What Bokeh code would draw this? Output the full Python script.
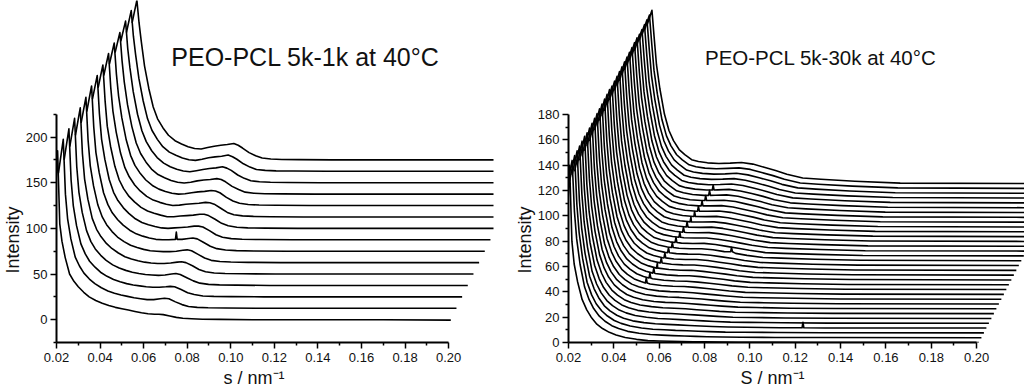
import math
from bokeh.plotting import figure
from bokeh.models import FixedTicker, PrintfTickFormatter, Label, Range1d, ColumnDataSource, Title
from bokeh.layouts import row
from bokeh.embed import file_html
from bokeh.resources import INLINE

FONT = "Liberation Sans"

# ---------------- data: left panel (PEO-PCL 5k-1k), 15 frames ----------------
s_left = [0.0183, 0.0205, 0.0215, 0.0225, 0.0240, 0.0260, 0.0280, 0.0300, 0.0325, 0.0350,
          0.0380, 0.0410, 0.0440, 0.0470, 0.0500, 0.0530, 0.0560, 0.0590, 0.0620, 0.0650,
          0.0670, 0.0690, 0.0720, 0.0750, 0.0780, 0.0820, 0.0870, 0.0950, 0.1100, 0.1400,
          0.1700, 0.2010]

left_intensity = [
    [80, 185, 105, 86, 68, 50, 42, 36, 30, 25, 21, 18, 15.5, 13.5, 12, 10.5, 9, 7.5, 6.5, 6, 6, 5.5, 4, 2.5, 1.5, 1, 0.5, 0.3, 0, 0, 0, -0.5],
    [148, 185, 125, 98, 76, 56, 46, 38.5, 32, 27, 22.5, 19, 16.5, 14.5, 13, 11.5, 10.5, 9.5, 9.5, 10.5, 11, 10.5, 7, 4, 2, 1, 0.5, 0.3, 0, 0, 0, 0],
    [150, 184, 128, 100, 78, 58, 47, 39, 32.5, 27, 22.5, 19, 16.5, 14.5, 13, 12, 11, 10.5, 10.5, 11, 11.5, 11, 8, 4.5, 2.5, 1, 0.5, 0.3, 0, 0, 0, 0],
    [152, 183, 130, 102, 80, 60, 48, 40, 33, 27.5, 22.5, 19, 16.5, 14.5, 13, 12, 11.5, 11, 11.5, 12.5, 13, 12, 8.5, 5, 2.5, 1.2, 0.6, 0.3, 0, 0, 0, 0],
    [152, 182, 132, 104, 82, 61, 49, 41, 33.5, 28, 23, 19, 16.5, 14.5, 13, 12, 11.5, 11.5, 12, 13, 13.5, 12.5, 9, 5, 2.5, 1.2, 0.6, 0.3, 0, 0, 0, 0],
    [153, 181, 134, 106, 84, 63, 50, 41.5, 34, 28, 23, 19, 16.5, 14.5, 13, 12.5, 12, 12, 12.5, 13.5, 14, 13, 9, 5, 2.5, 1.2, 0.6, 0.3, 0, 0, 0, 0],
    [153, 181, 136, 108, 86, 64, 51, 42, 34.5, 28.5, 23, 19, 16.5, 14.5, 13, 12.5, 12.5, 13, 13, 14, 14.5, 13.5, 9.5, 5.5, 2.8, 1.3, 0.6, 0.3, 0, 0, 0, 0],
    [154, 180, 138, 110, 88, 66, 52, 43, 35, 29, 23, 19, 16.5, 14.5, 13, 12.5, 13, 13.5, 14, 15, 15, 14, 10, 5.5, 2.8, 1.3, 0.6, 0.3, 0, 0, 0, 0],
    [154, 179, 140, 112, 90, 68, 53, 43.5, 35, 29, 23, 19, 16.5, 14.5, 12.8, 12.8, 13.5, 14, 14.5, 15.5, 15.5, 14, 10, 5.5, 2.8, 1.3, 0.6, 0.3, 0, 0, 0, 0],
    [155, 179, 142, 116, 93, 70, 54, 44, 35, 28.5, 22.5, 18.5, 16, 14, 12.5, 13, 14, 14.5, 15, 16, 15.5, 14, 9.5, 5, 2.5, 1.2, 0.6, 0.3, 0, 0, 0, 0],
    [155, 178, 144, 120, 96, 72, 55, 44, 35, 28, 22, 18, 15.5, 13.5, 12.5, 13, 14, 15, 15.5, 16.5, 16, 14, 9, 5, 2.5, 1.2, 0.6, 0.3, 0, 0, 0, 0],
    [155, 177, 146, 123, 98, 74, 56, 44.5, 35, 27.5, 21.5, 18, 15, 13, 12.2, 13, 14.5, 15.5, 16, 17, 16, 13.5, 8.5, 5, 2.2, 1, 0.5, 0.3, 0, 0, 0, 0],
    [155, 177, 147, 126, 100, 75, 57, 45, 35, 27.5, 21.5, 17.5, 14.8, 12.8, 12, 13.2, 14.5, 15.5, 16.3, 17.5, 16, 13.5, 8.5, 4.8, 2.2, 1, 0.5, 0.3, 0, 0, 0, 0],
    [152, 176, 148, 128, 102, 77, 57.5, 45, 35, 27, 21, 17.5, 14.6, 12.6, 12, 13.3, 14.8, 15.8, 16.5, 17.8, 16, 13.2, 8.2, 4.6, 2, 1, 0.5, 0.3, 0, 0, 0, 0],
    [150, 175, 150, 130, 103, 78, 58, 45, 35, 27, 21, 17.5, 14.5, 12.5, 12, 13.5, 15, 16, 16.8, 18, 16, 13, 8, 4.5, 2, 1, 0.5, 0.3, 0, 0, 0, 0],
]

# narrow spikes seen on single frames: frame index, s, level beside spike, spike top
left_spike_frame = [6]
left_spike_s = [0.0594]
left_spike_base = [13]
left_spike_top = [21]

# ---------------- data: right panel (PEO-PCL 5k-30k), 34 frames ----------------
s_right = [0.0183, 0.0205, 0.0215, 0.0225, 0.0240, 0.0260, 0.0280, 0.0300, 0.0325, 0.0350,
           0.0380, 0.0410, 0.0450, 0.0500, 0.0550, 0.0600, 0.0650, 0.0700, 0.0750, 0.0800,
           0.0870, 0.0950, 0.1100, 0.1300, 0.2010]

right_intensity = [
    [50, 140, 80, 62, 48, 34, 26, 20, 14.5, 11, 8, 6, 4, 2.5, 1.5, 1.2, 1, 0.8, 0.6, 0.5, 0.3, 0.2, 0.1, 0, 0],
    [120, 140, 100, 78, 58, 40, 30, 23, 17, 13, 9.5, 7.2, 5, 3.5, 2.5, 2, 1.6, 1.3, 1, 0.8, 0.5, 0.4, 0.2, 0.1, 0],
    [120, 140, 101, 79, 59, 40, 30, 23, 17.3, 13.3, 9.8, 7.5, 5.4, 3.9, 2.9, 2.5, 2.0, 1.7, 1.3, 1.0, 0.6, 0.5, 0.3, 0.1, 0],
    [121, 140, 101, 79, 59, 41, 31, 24, 17.6, 13.6, 10.1, 7.8, 5.7, 4.3, 3.4, 2.9, 2.5, 2.0, 1.6, 1.2, 0.8, 0.6, 0.3, 0.1, 0],
    [120, 140, 102, 80, 60, 41, 31, 24, 17.9, 13.9, 10.4, 8.2, 6.1, 4.7, 3.8, 3.4, 2.9, 2.4, 1.9, 1.4, 0.9, 0.7, 0.4, 0.1, 0],
    [121, 140, 102, 80, 60, 42, 31.5, 24.4, 18.3, 14.3, 10.7, 8.5, 6.4, 5.1, 4.2, 3.9, 3.3, 2.8, 2.2, 1.6, 1.0, 0.8, 0.4, 0.2, 0],
    [121, 140, 102, 80.5, 60.7, 42.3, 31.9, 24.7, 18.6, 14.6, 11, 8.8, 6.8, 5.5, 4.7, 4.3, 3.8, 3.1, 2.5, 1.8, 1.1, 0.9, 0.5, 0.2, 0],
    [121, 139, 103, 81, 61.2, 42.8, 32.3, 25.1, 18.9, 14.9, 11.3, 9.1, 7.2, 5.8, 5.1, 4.8, 4.2, 3.5, 2.8, 2.1, 1.3, 1.0, 0.5, 0.2, 0],
    [121, 139, 103, 81.5, 61.7, 43.3, 32.6, 25.4, 19.2, 15.2, 11.6, 9.5, 7.5, 6.2, 5.5, 5.2, 4.6, 3.9, 3.1, 2.3, 1.4, 1.1, 0.6, 0.2, 0],
    [121, 139, 104, 82, 62.2, 43.8, 33, 25.8, 19.5, 15.5, 11.9, 9.8, 7.9, 6.6, 6, 5.7, 5.1, 4.2, 3.4, 2.5, 1.5, 1.2, 0.7, 0.2, 0],
    [121, 139, 104, 82.5, 62.8, 44.2, 33.4, 26.1, 19.8, 15.8, 12.2, 10.1, 8.2, 7.0, 6.4, 6.2, 5.5, 4.6, 3.7, 2.7, 1.6, 1.3, 0.7, 0.2, 0],
    [122, 139, 104.7, 83, 63.3, 44.7, 33.8, 26.4, 20.1, 16.1, 12.5, 10.4, 8.6, 7.4, 6.8, 6.6, 5.9, 5.0, 4.0, 2.9, 1.8, 1.4, 0.8, 0.2, 0],
    [122, 139, 105.2, 83.5, 63.8, 45.2, 34.1, 26.8, 20.4, 16.4, 12.8, 10.7, 8.9, 7.8, 7.2, 7.1, 6.4, 5.3, 4.3, 3.1, 1.9, 1.5, 0.8, 0.2, 0],
    [122, 139, 105.6, 84, 64.4, 45.6, 34.5, 27.1, 20.8, 16.8, 13.1, 11.1, 9.3, 8.2, 7.7, 7.6, 6.8, 5.7, 4.6, 3.3, 2.0, 1.6, 0.9, 0.3, 0],
    [122, 139, 106.1, 84.5, 64.9, 46.1, 34.9, 27.5, 21.1, 17.1, 13.4, 11.4, 9.7, 8.6, 8.1, 8.0, 7.2, 6.1, 4.9, 3.5, 2.1, 1.7, 0.9, 0.3, 0],
    [122, 139, 106.6, 85, 65.4, 46.6, 35.3, 27.8, 21.4, 17.4, 13.7, 11.7, 10.0, 9.0, 8.5, 8.5, 7.7, 6.4, 5.2, 3.7, 2.3, 1.8, 1.0, 0.3, 0],
    [122, 139, 107, 85.5, 66, 47, 35.6, 28.2, 21.7, 17.7, 14, 12, 10.4, 9.4, 9.0, 8.9, 8.1, 6.8, 5.5, 3.9, 2.4, 1.9, 1.0, 0.3, 0],
    [123, 138, 107.5, 86, 66.5, 47.5, 36, 28.5, 22, 18, 14.3, 12.4, 10.8, 9.8, 9.4, 9.4, 8.6, 7.2, 5.8, 4.2, 2.5, 2.0, 1.1, 0.3, 0],
    [123, 138, 108, 86.5, 67, 48, 36.4, 28.8, 22.3, 18.3, 14.5, 12.7, 11.1, 10.1, 9.8, 9.9, 9.0, 7.5, 6.0, 4.4, 2.6, 2.0, 1.2, 0.3, 0],
    [123, 138, 108.4, 87, 67.6, 48.4, 36.8, 29.2, 22.6, 18.6, 14.8, 13, 11.5, 10.5, 10.3, 10.3, 9.4, 7.9, 6.3, 4.6, 2.8, 2.1, 1.2, 0.3, 0],
    [123, 138, 108.9, 87.5, 68.1, 48.9, 37.1, 29.5, 22.9, 18.9, 15.1, 13.3, 11.8, 10.9, 10.7, 10.8, 9.8, 8.3, 6.6, 4.8, 2.9, 2.2, 1.3, 0.3, 0],
    [123, 138, 109.4, 88, 68.6, 49.4, 37.5, 29.9, 23.3, 19.3, 15.4, 13.6, 12.2, 11.3, 11.1, 11.3, 10.3, 8.6, 6.9, 5.0, 3.0, 2.3, 1.3, 0.4, 0],
    [123, 138, 109.8, 88.5, 69.2, 49.8, 37.9, 30.2, 23.6, 19.6, 15.7, 14, 12.5, 11.7, 11.6, 11.7, 10.7, 9.0, 7.2, 5.2, 3.1, 2.4, 1.4, 0.4, 0],
    [124, 138, 110.3, 89, 69.7, 50.3, 38.3, 30.6, 23.9, 19.9, 16, 14.3, 12.9, 12.1, 12, 12.2, 11.1, 9.4, 7.5, 5.4, 3.3, 2.5, 1.4, 0.4, 0],
    [124, 138, 110.8, 89.5, 70.2, 50.8, 38.6, 30.9, 24.2, 20.2, 16.3, 14.6, 13.3, 12.5, 12.4, 12.6, 11.6, 9.7, 7.8, 5.6, 3.4, 2.6, 1.5, 0.4, 0],
    [124, 138, 111.3, 90, 70.7, 51.3, 39, 31.3, 24.5, 20.5, 16.6, 14.9, 13.6, 12.9, 12.9, 13.1, 12, 10.1, 8.1, 5.8, 3.5, 2.7, 1.6, 0.4, 0],
    [124, 138, 111.7, 90.5, 71.3, 51.7, 39.4, 31.6, 24.8, 20.8, 16.9, 15.3, 14, 13.3, 13.3, 13.6, 12.5, 10.5, 8.4, 6.0, 3.6, 2.8, 1.6, 0.4, 0],
    [124, 138, 112.2, 91, 71.8, 52.2, 39.8, 31.9, 25.1, 21.1, 17.2, 15.6, 14.3, 13.6, 13.7, 14.0, 12.9, 10.8, 8.7, 6.2, 3.8, 2.9, 1.7, 0.4, 0],
    [124, 137, 112.7, 91.5, 72.3, 52.7, 40.1, 32.3, 25.4, 21.4, 17.5, 15.9, 14.7, 14, 14.1, 14.5, 13.3, 11.2, 9.0, 6.4, 3.9, 3.0, 1.7, 0.4, 0],
    [125, 137, 113.1, 92, 72.9, 53.1, 40.5, 32.6, 25.8, 21.8, 17.8, 16.2, 15.1, 14.4, 14.6, 15.0, 13.8, 11.6, 9.3, 6.7, 4.0, 3.1, 1.8, 0.5, 0],
    [125, 137, 113.6, 92.5, 73.4, 53.6, 40.9, 33, 26.1, 22.1, 18.1, 16.5, 15.4, 14.8, 15, 15.4, 14.2, 11.9, 9.6, 6.9, 4.1, 3.2, 1.8, 0.5, 0],
    [125, 137, 114.1, 93, 73.9, 54.1, 41.3, 33.3, 26.4, 22.4, 18.4, 16.9, 15.8, 15.2, 15.4, 15.9, 14.6, 12.3, 9.9, 7.1, 4.3, 3.3, 1.9, 0.5, 0],
    [125, 137, 114.5, 93.5, 74.5, 54.5, 41.6, 33.7, 26.7, 22.7, 18.7, 17.2, 16.1, 15.6, 15.9, 16.3, 15.1, 12.6, 10.2, 7.3, 4.4, 3.4, 1.9, 0.5, 0],
    [125, 137, 115, 94, 75, 55, 42, 34, 27, 23, 19, 17.5, 16.5, 16, 16.3, 16.8, 15.5, 13, 10.5, 7.5, 4.5, 3.5, 2, 0.5, 0],
]

# single-frame spikes plus the artefact ridge that crosses frames 10-28
right_spike_frame = [3, 17, 10, 11, 12, 13, 14, 15, 16, 17, 18, 19, 20, 21, 22, 23, 24, 25, 26, 27, 28]
right_spike_s = [0.1201, 0.0732, 0.0433, 0.0438, 0.0444, 0.0449, 0.0455, 0.0460, 0.0465, 0.0471,
                 0.0476, 0.0482, 0.0487, 0.0492, 0.0498, 0.0503, 0.0509, 0.0514, 0.0519, 0.0525,
                 0.0530]
right_spike_base = [0.2, 7.1, 9.0, 9.1, 9.2, 9.35, 9.6, 9.8, 10.1, 10.4, 10.6, 10.9, 11.1, 11.4,
                    11.7, 12.1, 12.5, 12.9, 13.3, 13.6, 14.0]
right_spike_top = [4.6, 10.5, 13.0, 13.1, 13.2, 13.4, 13.6, 13.8, 14.1, 14.4, 14.6, 14.9, 15.1,
                   15.4, 15.7, 16.1, 16.5, 16.9, 17.3, 17.6, 18.0]

# tick values
x_ticks = [0.02, 0.04, 0.06, 0.08, 0.10, 0.12, 0.14, 0.16, 0.18, 0.20]
x_minor = [0.03, 0.05, 0.07, 0.09, 0.11, 0.13, 0.15, 0.17, 0.19]
left_yticks = [0, 50, 100, 150, 200]
left_yminor = [-25, 25, 75, 125, 175, 225]
right_yticks = [0, 20, 40, 60, 80, 100, 120, 140, 160, 180]
right_yminor = [10, 30, 50, 70, 90, 110, 130, 150, 170]

# waterfall offsets (per frame)
LEFT_DX, LEFT_DY = 0.0026, 12.5
RIGHT_DX, RIGHT_DY = 0.0011, 3.8
SPIKE_HALF_WIDTH = 0.0004


def waterfall(p, s, curves, dx, dy, sp_frame, sp_s, sp_base, sp_top):
    xs, ys = [], []
    for i, c in enumerate(curves):
        pts = list(zip(s, c))
        for f, ss, b, t in zip(sp_frame, sp_s, sp_base, sp_top):
            if f == i:
                pts += [(ss - SPIKE_HALF_WIDTH, b), (ss, t), (ss + SPIKE_HALF_WIDTH, b)]
        pts.sort(key=lambda q: q[0])
        xs.append([q[0] + i * dx for q in pts])
        ys.append([q[1] + i * dy for q in pts])
    src = ColumnDataSource(data=dict(xs=xs, ys=ys))
    p.multi_line("xs", "ys", source=src, line_color="black", line_width=1.6,
                 line_join="round")


def side_label(p, t, side, offset, standoff):
    p.add_layout(Title(text=t, align="left", offset=offset, standoff=standoff,
                       text_font=FONT, text_font_size="18px",
                       text_font_style="normal", text_color="#111111"), side)


def style(p, ybounds, yticks, yminor):
    p.outline_line_color = None
    p.xgrid.visible = False
    p.ygrid.visible = False
    p.xaxis.bounds = (0.02, 0.20)
    p.xaxis.ticker = FixedTicker(ticks=x_ticks, minor_ticks=x_minor)
    p.xaxis.formatter = PrintfTickFormatter(format="%.2f")
    p.yaxis.bounds = ybounds
    p.yaxis.ticker = FixedTicker(ticks=yticks, minor_ticks=yminor)
    for ax in (p.xaxis[0], p.yaxis[0]):
        ax.axis_line_width = 2
        ax.axis_line_color = "black"
        ax.major_tick_line_width = 1.5
        ax.major_tick_line_color = "black"
        ax.major_tick_in = 0
        ax.major_tick_out = 6
        ax.minor_tick_line_width = 1.5
        ax.minor_tick_line_color = "black"
        ax.minor_tick_in = 0
        ax.minor_tick_out = 3
        ax.major_label_text_font = FONT
        ax.major_label_text_font_size = "13px"
        ax.major_label_text_color = "#111111"
        ax.major_label_standoff = 3
    p.xaxis.major_label_standoff = 4


def title_text(p, x, y, t, size):
    p.add_layout(Label(x=x, y=y, text=t, text_font=FONT, text_font_size=size,
                       text_color="#111111", text_align="left",
                       text_baseline="alphabetic"))


# ---------------- left figure ----------------
p1 = figure(width=512, height=391, output_backend="svg", toolbar_location=None,
            x_range=Range1d(0.02, 0.2206), y_range=Range1d(-25, 349.6),
            min_border_left=55, min_border_right=19, min_border_top=0,
            min_border_bottom=49)
waterfall(p1, s_left, left_intensity, LEFT_DX, LEFT_DY,
          left_spike_frame, left_spike_s, left_spike_base, left_spike_top)
style(p1, (-25, 225), left_yticks, left_yminor)
side_label(p1, "Intensity", "left", 69, 0)
side_label(p1, "s / nm⁻¹", "below", 167, 3)
title_text(p1, 0.0727, 288.1, "PEO-PCL 5k-1k at 40°C", "25px")

# ---------------- right figure ----------------
p2 = figure(width=512, height=391, output_backend="svg", toolbar_location=None,
            x_range=Range1d(0.02, 0.2211), y_range=Range1d(0, 270.1),
            min_border_left=55, min_border_right=0, min_border_top=0,
            min_border_bottom=49)
waterfall(p2, s_right, right_intensity, RIGHT_DX, RIGHT_DY,
          right_spike_frame, right_spike_s, right_spike_base, right_spike_top)
style(p2, (0, 180), right_yticks, right_yminor)
side_label(p2, "Intensity", "left", 69, 0)
side_label(p2, "S / nm⁻¹", "below", 172, 3)
title_text(p2, 0.0802, 224.8, "PEO-PCL 5k-30k at 40°C", "20.5px")

layout = row(p1, p2)
open("out.html", "w").write(file_html(layout, INLINE))
